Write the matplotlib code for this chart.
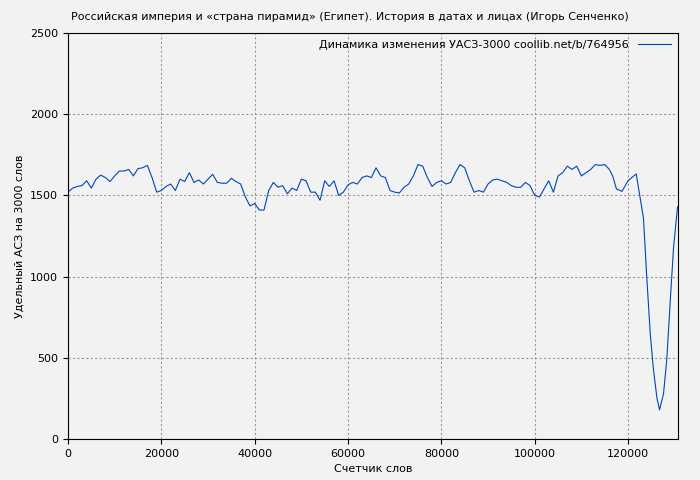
import matplotlib
matplotlib.use('Agg')
import matplotlib.pyplot as plt

# word counter positions and values
words = [0, 1000, 2000, 3000, 4000, 5000, 6000, 7000, 8000, 9000,
         10000, 11000, 12000, 13000, 14000, 15000, 16000, 17000, 18000, 19000,
         20000, 21000, 22000, 23000, 24000, 25000, 26000, 27000, 28000, 29000,
         30000, 31000, 32000, 33000, 34000, 35000, 36000, 37000, 38000, 39000,
         40000, 41000, 42000, 43000, 44000, 45000, 46000, 47000, 48000, 49000,
         50000, 51000, 52000, 53000, 54000, 55000, 56000, 57000, 58000, 59000,
         60000, 61000, 62000, 63000, 64000, 65000, 66000, 67000, 68000, 69000,
         70000, 71000, 72000, 73000, 74000, 75000, 76000, 77000, 78000, 79000,
         80000, 81000, 82000, 83000, 84000, 85000, 86000, 87000, 88000, 89000,
         90000, 91000, 92000, 93000, 94000, 95000, 96000, 97000, 98000, 99000,
         100000, 101000, 102000, 103000, 104000, 105000, 106000, 107000, 108000, 109000,
         110000, 111000, 112000, 113000, 114000, 115000, 116000, 116700, 117500, 118700,
         120000, 121000, 121750, 123300, 124000, 124750, 125450, 126200, 126750, 127600,
         128300, 129050, 129750, 130600]
uasz = [1520, 1545, 1555, 1560, 1590, 1545, 1600, 1625, 1610, 1585,
        1620, 1650, 1650, 1660, 1620, 1665, 1670, 1685, 1610, 1520,
        1530, 1555, 1570, 1530, 1600, 1585, 1640, 1580, 1595, 1570,
        1600, 1630, 1580, 1575, 1575, 1605, 1585, 1570, 1490, 1435,
        1450, 1410, 1410, 1530, 1580, 1550, 1560, 1510, 1545, 1530,
        1600, 1590, 1520, 1520, 1470, 1590, 1555, 1590, 1500, 1520,
        1565, 1580, 1570, 1610, 1620, 1610, 1670, 1620, 1610, 1530,
        1520, 1515, 1550, 1570, 1620, 1690, 1680, 1610, 1555, 1580,
        1590, 1570, 1580, 1640, 1690, 1670, 1590, 1520, 1530, 1520,
        1570, 1595, 1600, 1590, 1580, 1560, 1550, 1550, 1580, 1560,
        1500, 1490, 1540, 1590, 1520, 1620, 1640, 1680, 1660, 1680,
        1620, 1640, 1660, 1690, 1685, 1690, 1660, 1620, 1540, 1525,
        1590, 1615, 1632, 1360, 1000, 650, 425, 250, 180, 280,
        490, 855, 1180, 1430]

bg = '#f2f2f2'
fig = plt.figure(figsize=(7, 4.8), dpi=100, facecolor=bg)
ax = fig.add_axes([68/700, 1-439/480, 610/700, 406/480], facecolor=bg)
ax.plot(words, uasz, color='#0047b3', lw=0.8,
        label='Динамика изменения УАСЗ-3000 coollib.net/b/764956')
ax.set_xlim(0, 130700)
ax.set_ylim(0, 2500)
ax.set_xticks(range(0, 130000, 20000))
ax.set_yticks(range(0, 2501, 500))
ax.tick_params(labelsize=8)
ax.grid(color='#999999', linestyle=(0, (2, 2)), lw=0.8)
ax.set_xlabel('Счетчик слов', fontsize=8)
ax.set_ylabel('Удельный АСЗ на 3000 слов', fontsize=8)
fig.suptitle('Российская империя и «страна пирамид» (Египет). История в датах и лицах (Игорь Сенченко)',
             fontsize=8, y=0.975)
ax.legend(loc='upper right', frameon=False, fontsize=8, markerfirst=False,
          handlelength=3, borderaxespad=0.2)
fig.savefig('out.png', facecolor=bg)
